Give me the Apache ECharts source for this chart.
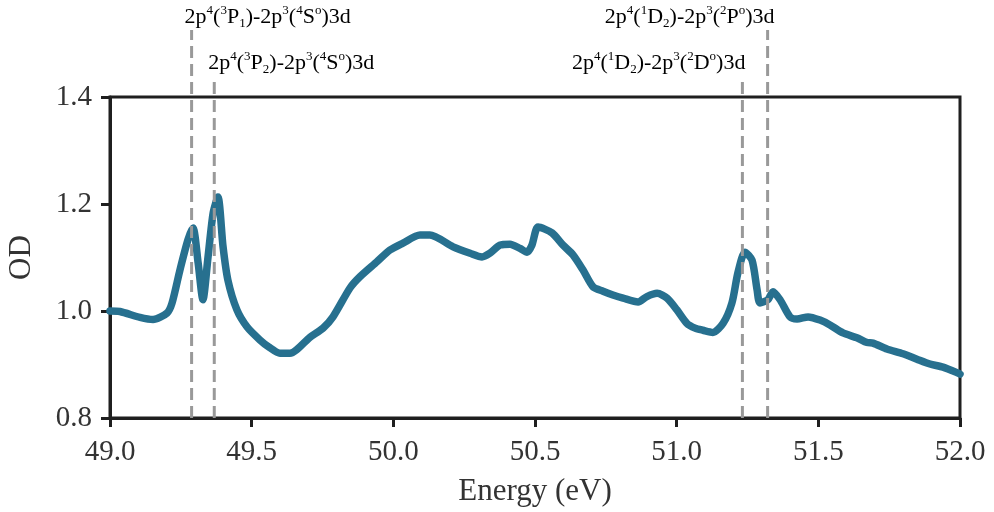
<!DOCTYPE html>
<html>
<head>
<meta charset="utf-8">
<script src="https://cdn.jsdelivr.net/npm/echarts@6/dist/echarts.min.js"></script>
<style>html,body{margin:0;padding:0;background:#fff;}#c{width:994px;height:512px;}</style>
</head>
<body>
<div id="c"></div>
<script>
var energy = [49.000,49.035,49.106,49.152,49.201,49.219,49.247,49.275,49.293,49.311,49.328,49.346,49.364,49.381,49.399,49.416,49.448,49.484,49.529,49.560,49.600,49.635,49.706,49.752,49.787,49.847,49.882,49.942,49.988,50.034,50.094,50.129,50.211,50.271,50.313,50.341,50.376,50.412,50.447,50.472,50.489,50.511,50.560,50.599,50.634,50.669,50.705,50.740,50.775,50.811,50.864,50.895,50.931,50.966,51.001,51.036,51.065,51.093,51.128,51.164,51.195,51.216,51.241,51.266,51.284,51.294,51.322,51.340,51.365,51.400,51.425,51.464,51.506,51.541,51.587,51.636,51.672,51.693,51.742,51.799,51.848,51.894,51.940,51.993,52.000];
var od = [1.000,0.999,0.988,0.984,0.996,1.015,1.077,1.133,1.155,1.090,1.021,1.101,1.183,1.213,1.120,1.058,1.002,0.970,0.946,0.933,0.921,0.921,0.951,0.968,0.989,1.043,1.064,1.092,1.114,1.127,1.142,1.142,1.120,1.108,1.101,1.108,1.123,1.125,1.117,1.110,1.123,1.157,1.146,1.123,1.105,1.077,1.045,1.037,1.030,1.024,1.017,1.027,1.033,1.024,1.002,0.977,0.968,0.964,0.960,0.977,1.015,1.071,1.110,1.095,1.039,1.015,1.021,1.036,1.021,0.989,0.985,0.989,0.983,0.974,0.959,0.950,0.941,0.940,0.929,0.920,0.910,0.901,0.895,0.884,0.882];
var xTicks = [49.0,49.5,50.0,50.5,51.0,51.5,52.0];
var yTicks = [0.8,1.0,1.2,1.4];
// transition energies and relative heights of annotation lines (0..1 of annotation area)
var lineEnergy = [49.288, 49.368, 51.232, 51.321];
var lineTop = [1.0, 0.876, 0.876, 1.0];
var labelTexts = [
  '{n|2p}{sup|4}{n|(}{sup|3}{n|P}{sub|1}{n|)-2p}{sup|3}{n|(}{sup|4}{n|S}{sup|o}{n|)3d}',
  '{n|2p}{sup|4}{n|(}{sup|3}{n|P}{sub|2}{n|)-2p}{sup|3}{n|(}{sup|4}{n|S}{sup|o}{n|)3d}',
  '{n|2p}{sup|4}{n|(}{sup|1}{n|D}{sub|2}{n|)-2p}{sup|3}{n|(}{sup|2}{n|D}{sup|o}{n|)3d}',
  '{n|2p}{sup|4}{n|(}{sup|1}{n|D}{sub|2}{n|)-2p}{sup|3}{n|(}{sup|2}{n|P}{sup|o}{n|)3d}'
];

var FONT = '"Liberation Serif", "DejaVu Serif", serif';
var AX = '#1f1f1f';
var chart = echarts.init(document.getElementById('c'), null, {renderer: 'canvas'});

var dashSeries = lineEnergy.map(function (e, i) {
  return {
    type: 'line', xAxisIndex: 1, yAxisIndex: 1, symbol: 'none', silent: true, z: 10,
    data: [[e, 0], [e, lineTop[i]]],
    lineStyle: {color: '#999999', width: 3, type: [12, 6]}
  };
});

var option = {
  animation: false,
  backgroundColor: '#ffffff',
  grid: [
    {left: 110, right: 34, top: 97, bottom: 94, containLabel: false, outerBoundsMode: 'none',
     show: true, borderColor: AX, borderWidth: 3, backgroundColor: 'transparent'},
    {left: 110, right: 34, top: 30, bottom: 94, containLabel: false, outerBoundsMode: 'none', show: false}
  ],
  xAxis: [
    {
      type: 'value', gridIndex: 0, min: 49.0, max: 52.0, interval: 0.5,
      name: 'Energy (eV)', nameLocation: 'middle', nameGap: 58,
      nameTextStyle: {fontFamily: FONT, fontSize: 31, color: '#333'},
      axisLine: {show: true, lineStyle: {color: AX, width: 3}},
      axisTick: {show: true, length: 9, lineStyle: {color: AX, width: 3}},
      axisLabel: {fontFamily: FONT, fontSize: 29, color: '#333', margin: 20,
        formatter: function (v) { return v.toFixed(1); }},
      splitLine: {show: false}
    },
    {type: 'value', gridIndex: 1, min: 49.0, max: 52.0, show: false}
  ],
  yAxis: [
    {
      type: 'value', gridIndex: 0, min: 0.8, max: 1.4, interval: 0.2,
      name: 'OD', nameLocation: 'middle', nameGap: 73, nameRotate: 90,
      nameTextStyle: {fontFamily: FONT, fontSize: 31, color: '#333'},
      axisLine: {show: true, lineStyle: {color: AX, width: 3}},
      axisTick: {show: true, length: 9, lineStyle: {color: AX, width: 3}},
      axisLabel: {fontFamily: FONT, fontSize: 29, color: '#333', margin: 18,
        formatter: function (v) { return v.toFixed(1); }},
      splitLine: {show: false}
    },
    {type: 'value', gridIndex: 1, min: 0, max: 1, show: false}
  ],
  series: [{
    type: 'line', xAxisIndex: 0, yAxisIndex: 0, symbol: 'none', smooth: 0.25, z: 5,
    data: energy.map(function (e, i) { return [e, od[i]]; }),
    lineStyle: {color: '#27708f', width: 7.5, cap: 'round', join: 'round'}
  }].concat(dashSeries)
};
chart.setOption(option);

var rich = {
  n: {fontFamily: FONT, fontSize: 22, color: '#222', lineHeight: 26},
  sup: {fontFamily: FONT, fontSize: 13, color: '#222', lineHeight: 13, verticalAlign: 'top'},
  sub: {fontFamily: FONT, fontSize: 13, color: '#222', lineHeight: 13, verticalAlign: 'bottom'}
};
function px(e) { return chart.convertToPixel({xAxisIndex: 1}, e); }
function py(v) { return chart.convertToPixel({yAxisIndex: 1}, v); }
var topY = py(1.0);
var lowY = py(0.876);
var graphics = [
  {type: 'text', x: px(lineEnergy[0]) - 7, y: topY - 13, style: {text: labelTexts[0], rich: rich, align: 'left', verticalAlign: 'middle'}},
  {type: 'text', x: px(lineEnergy[1]) - 6, y: lowY - 15, style: {text: labelTexts[1], rich: rich, align: 'left', verticalAlign: 'middle'}},
  {type: 'text', x: px(lineEnergy[2]) + 3, y: lowY - 15, style: {text: labelTexts[2], rich: rich, align: 'right', verticalAlign: 'middle'}},
  {type: 'text', x: px(lineEnergy[3]) + 7, y: topY - 13, style: {text: labelTexts[3], rich: rich, align: 'right', verticalAlign: 'middle'}}
];
chart.setOption({graphic: graphics});
</script>
</body>
</html>
